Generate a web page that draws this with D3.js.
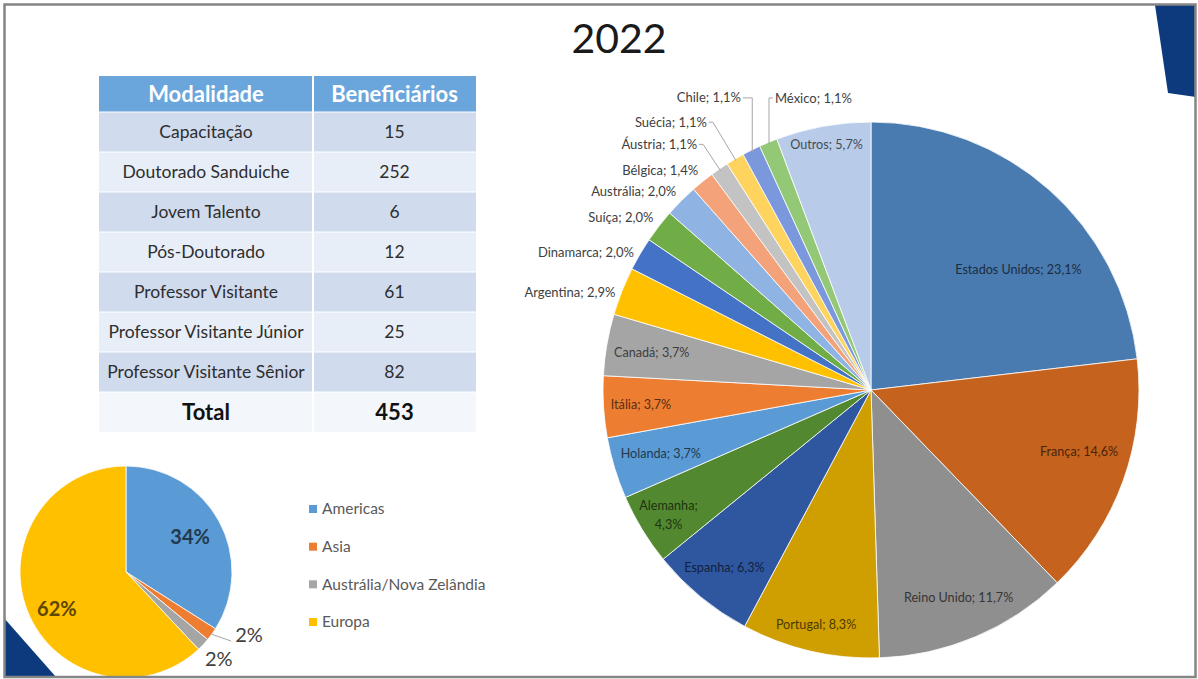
<!DOCTYPE html>
<html>
<head>
<meta charset="utf-8">
<script src="https://cdn.jsdelivr.net/npm/d3@7"></script>
<style>
  html, body { margin: 0; padding: 0; background: #fff; }
  svg { display: block; font-family: Lato, "Open Sans", sans-serif; }
</style>
</head>
<body>
<svg id="chart" width="1198" height="679"></svg>
<script>
// ---- data ----
const title = "2022";

const tableHeader = ["Modalidade", "Beneficiários"];
const modalidades = [
  "Capacitação", "Doutorado Sanduiche", "Jovem Talento", "Pós-Doutorado",
  "Professor Visitante", "Professor Visitante Júnior", "Professor Visitante Sênior"
];
const beneficiarios = [15, 252, 6, 12, 61, 25, 82];
const totalLabel = "Total";

const countries = [
  "Estados Unidos", "França", "Reino Unido", "Portugal", "Espanha", "Alemanha",
  "Holanda", "Itália", "Canadá", "Argentina", "Dinamarca", "Suíça", "Austrália",
  "Bélgica", "Áustria", "Suécia", "Chile", "México", "Outros"
];
const countryShares = [23.1, 14.6, 11.7, 8.3, 6.3, 4.3, 3.7, 3.7, 3.7, 2.9, 2.0, 2.0, 2.0, 1.4, 1.1, 1.1, 1.1, 1.1, 5.7];

const regions = ["Americas", "Asia", "Austrália/Nova Zelândia", "Europa"];
const regionShares = [34, 2, 2, 62];

// ---- styles ----
const countryColors = [
  "#4a7bb0", "#c5621d", "#8f8f8f", "#cf9e00", "#2f57a0", "#52882f",
  "#5b9bd5", "#ed7d31", "#a5a5a5", "#ffc000", "#4472c4", "#70ad47",
  "#8fb4e3", "#f4a27a", "#c3c3c3", "#ffd45e", "#7b98dc", "#93c877", "#b8cbe8"
];
const regionColors = ["#5b9bd5", "#ed7d31", "#a5a5a5", "#ffc000"];

// label placement for the country pie: inside (radius fraction, optional angle),
// outside (next to the rim) or callout (leader line to a label placed further out)
const countryLabelLayout = {
  "Estados Unidos": { mode: "in", f: 0.71, a: 50.8 },
  "França":         { mode: "in", f: 0.81, a: 106.6 },
  "Reino Unido":    { mode: "in", f: 0.84 },
  "Portugal":       { mode: "in", f: 0.90 },
  "Espanha":        { mode: "in", f: 0.86 },
  "Alemanha":       { mode: "in2", f: 0.885 },
  "Holanda":        { mode: "in", f: 0.82 },
  "Itália":         { mode: "in", f: 0.86 },
  "Canadá":         { mode: "in", f: 0.83 },
  "Argentina":      { mode: "out", dy: 4 },
  "Dinamarca":      { mode: "out", dy: 2 },
  "Suíça":          { mode: "out", dy: -4 },
  "Austrália":      { mode: "out", dy: -4 },
  "Bélgica":        { mode: "out", dy: -6 },
  "Áustria":        { mode: "callD", a: 324.7, f: 1.123 },
  "Suécia":         { mode: "callD", a: 328.5, f: 1.172 },
  "Chile":          { mode: "callV", a: 336.0, f: 1.193 },
  "México":         { mode: "callVR", a: 341.8, f: 1.147 },
  "Outros":         { mode: "in", f: 0.93 }
};

const regionLabelLayout = [
  { mode: "in", f: 0.69 },
  { mode: "lead", f: 1.19, a: 120 },
  { mode: "out", f: 1.2 },
  { mode: "in", f: 0.74, a: 241.8 }
];

const W = 1198, H = 679;
const svg = d3.select("#chart");
const fmt = v => v.toFixed(1).replace(".", ",") + "%";
const rad = deg => deg * Math.PI / 180;
const polar = (a, r) => [r * Math.sin(a), -r * Math.cos(a)];

// ---- slide decoration ----
svg.append("rect").attr("width", W).attr("height", H).attr("fill", "#fff");
svg.append("path")
  .attr("d", d3.line()([[1155, 5], [1196, 5], [1196, 97], [1168, 93]]) + "Z")
  .attr("fill", "#0c3a7c");
svg.append("path")
  .attr("d", d3.line()([[4, 618], [4, 677], [56, 677]]) + "Z")
  .attr("fill", "#0c3a7c");

// ---- title ----
svg.append("text")
  .attr("x", 619).attr("y", 53)
  .attr("text-anchor", "middle")
  .attr("font-size", 41)
  .attr("fill", "#1a1a1a")
  .text(title);

// ---- table ----
const tbl = svg.append("g");
const tX = d3.scaleOrdinal().domain([0, 1]).range([99, 313]);
const colW = [214, 163];
const rowKeys = d3.range(modalidades.length + 1);
const rowY = d3.scaleBand().domain(rowKeys).range([112, 432]);
const headerTop = 76;

tableHeader.forEach((h, c) => {
  tbl.append("rect")
    .attr("x", tX(c)).attr("y", headerTop)
    .attr("width", colW[c]).attr("height", rowY.range()[0] - headerTop)
    .attr("fill", "#6aa6dc");
  tbl.append("text")
    .attr("x", tX(c) + colW[c] / 2).attr("y", (headerTop + rowY.range()[0]) / 2)
    .attr("dy", "0.36em").attr("text-anchor", "middle")
    .attr("font-size", 22).attr("font-weight", 700).attr("fill", "#fff")
    .text(h);
});

const rows = modalidades.map((m, i) => ({ label: m, value: beneficiarios[i], total: false }));
rows.push({ label: totalLabel, value: d3.sum(beneficiarios), total: true });

rows.forEach((r, i) => {
  const fill = r.total ? "#f3f6fb" : (i % 2 === 0 ? "#d0dbee" : "#e8eef7");
  [r.label, r.value].forEach((t, c) => {
    tbl.append("rect")
      .attr("x", tX(c)).attr("y", rowY(i))
      .attr("width", colW[c]).attr("height", rowY.bandwidth())
      .attr("fill", fill);
    tbl.append("text")
      .attr("x", tX(c) + colW[c] / 2).attr("y", rowY(i) + rowY.bandwidth() / 2)
      .attr("dy", "0.36em").attr("text-anchor", "middle")
      .attr("font-size", r.total ? 22 : 17.5)
      .attr("font-weight", r.total ? 700 : 400)
      .attr("fill", r.total ? "#111" : "#2e2e2e")
      .text(t);
  });
});
// cell separators
tbl.append("line").attr("x1", 313).attr("x2", 313)
  .attr("y1", headerTop).attr("y2", 432)
  .attr("stroke", "#fff").attr("stroke-width", 2);
rowKeys.forEach(i => {
  tbl.append("line").attr("x1", 99).attr("x2", 476)
    .attr("y1", rowY(i)).attr("y2", rowY(i))
    .attr("stroke", "#fff").attr("stroke-width", 1);
});

// ---- country pie ----
const big = { x: 871, y: 390, r: 268 };
const gBig = svg.append("g").attr("transform", `translate(${big.x},${big.y})`);
const pie = d3.pie().sort(null).value(d => d.v);
const bigArcs = pie(countries.map((c, i) => ({ name: c, v: countryShares[i], color: countryColors[i] })));
const bigArc = d3.arc().innerRadius(0).outerRadius(big.r);

gBig.selectAll("path.slice").data(bigArcs).join("path")
  .attr("class", "slice")
  .attr("d", bigArc)
  .attr("fill", d => d.data.color)
  .attr("stroke", "#fff").attr("stroke-width", 0.8);

const labelG = gBig.append("g");
bigArcs.forEach(d => {
  const L = countryLabelLayout[d.data.name];
  const mid = (d.startAngle + d.endAngle) / 2;
  const text = `${d.data.name}; ${fmt(d.data.v)}`;
  const dark = d3.color(d.data.color).darker(2.8).formatHex();
  if (L.mode === "in" || L.mode === "in2") {
    const [x, y] = polar(L.a !== undefined ? rad(L.a) : mid, big.r * L.f);
    const t = labelG.append("text").attr("text-anchor", "middle")
      .attr("font-size", 12.6).attr("fill", dark);
    if (L.mode === "in") {
      t.attr("x", x).attr("y", y).attr("dy", "0.35em").text(text);
    } else {
      t.append("tspan").attr("x", x).attr("y", y).attr("dy", "-0.3em").text(d.data.name + ";");
      t.append("tspan").attr("x", x).attr("y", y).attr("dy", "1.2em").text(fmt(d.data.v));
    }
  } else if (L.mode === "out") {
    const [x, y] = polar(mid, big.r + 7);
    labelG.append("text").attr("x", x).attr("y", y + L.dy).attr("dy", "0.35em")
      .attr("font-size", 13)
      .attr("text-anchor", "end").attr("fill", "#404040").text(text);
  } else {
    const [lx, ly] = polar(rad(L.a), big.r * L.f);
    const [ex, ey] = polar(mid, big.r - 2);
    const right = L.mode === "callVR";
    labelG.append("text").attr("x", lx).attr("y", ly).attr("dy", "0.35em")
      .attr("font-size", 13)
      .attr("text-anchor", right ? "start" : "end").attr("fill", "#404040").text(text);
    let pts;
    if (L.mode === "callD") pts = [[lx + 2, ly], [lx + 6, ly], [ex, ey]];
    else if (L.mode === "callV") pts = [[lx + 2, ly], [ex, ly], [ex, ey]];
    else pts = [[lx - 2, ly], [ex, ly], [ex, ey]];
    labelG.append("path").attr("d", d3.line()(pts))
      .attr("fill", "none").attr("stroke", "#a6a6a6").attr("stroke-width", 1);
  }
});

// ---- region pie ----
const small = { x: 126, y: 572, r: 106 };
const gSmall = svg.append("g").attr("transform", `translate(${small.x},${small.y})`);
gSmall.append("circle").attr("r", small.r + 9).attr("fill", "#fff");
const smallArcs = pie(regions.map((c, i) => ({ name: c, v: regionShares[i], color: regionColors[i] })));
const smallArc = d3.arc().innerRadius(0).outerRadius(small.r);
gSmall.selectAll("path.slice").data(smallArcs).join("path")
  .attr("class", "slice")
  .attr("d", smallArc)
  .attr("fill", d => d.data.color)
  .attr("stroke", "#fff").attr("stroke-width", 0.8);

smallArcs.forEach((d, i) => {
  const L = regionLabelLayout[i];
  const mid = (d.startAngle + d.endAngle) / 2;
  const a = L.a !== undefined ? rad(L.a) : mid;
  const [x, y] = polar(a, small.r * L.f);
  const txt = d.data.v + "%";
  if (L.mode === "in") {
    gSmall.append("text").attr("x", x).attr("y", y).attr("dy", "0.35em")
      .attr("text-anchor", "middle").attr("font-size", 20).attr("font-weight", 700)
      .attr("fill", d3.color(d.data.color).darker(2.8).formatHex()).text(txt);
  } else if (L.mode === "out") {
    gSmall.append("text").attr("x", x).attr("y", y).attr("dy", "0.35em")
      .attr("text-anchor", "middle").attr("font-size", 20).attr("fill", "#404040").text(txt);
  } else {
    const [ex, ey] = polar(mid, small.r);
    gSmall.append("path").attr("d", d3.line()([[ex, ey], [x - 4, y + 6]]))
      .attr("fill", "none").attr("stroke", "#a6a6a6").attr("stroke-width", 1);
    gSmall.append("text").attr("x", x).attr("y", y).attr("dy", "0.35em")
      .attr("text-anchor", "start").attr("font-size", 20).attr("fill", "#404040").text(txt);
  }
});

// legend
const legY = d3.scalePoint().domain(regions).range([509, 622]);
const leg = svg.append("g").attr("font-size", 15.5).attr("fill", "#595959");
regions.forEach((r, i) => {
  leg.append("rect").attr("x", 309).attr("y", legY(r) - 4).attr("width", 8).attr("height", 8)
    .attr("fill", regionColors[i]);
  leg.append("text").attr("x", 322).attr("y", legY(r)).attr("dy", "0.35em").text(r);
});

// ---- slide frame ----
svg.append("rect")
  .attr("x", 4.5).attr("y", 4.5).attr("width", 1191).attr("height", 672.5)
  .attr("fill", "none").attr("stroke", "#858585").attr("stroke-width", 2.5);
</script>
</body>
</html>
